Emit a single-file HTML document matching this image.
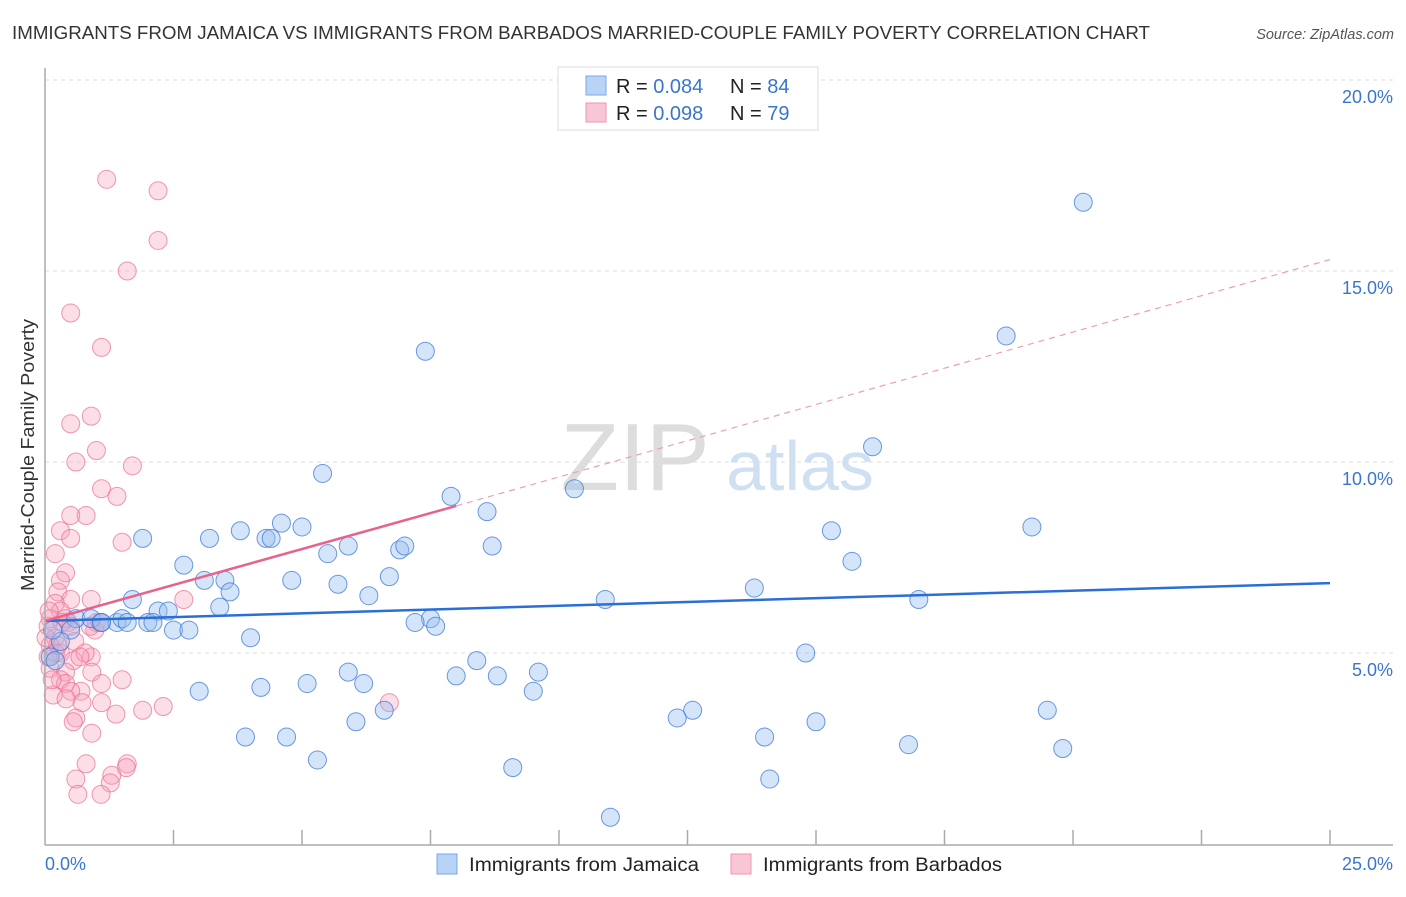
<!DOCTYPE html>
<html><head><meta charset="utf-8"><style>
body{margin:0;background:#fff;font-family:"Liberation Sans",sans-serif;}
svg text{font-family:"Liberation Sans",sans-serif;}
</style></head><body>
<svg id="chart" width="1406" height="892" xmlns="http://www.w3.org/2000/svg">
<text x="12" y="39" font-size="18" fill="#333" textLength="1138" lengthAdjust="spacingAndGlyphs">IMMIGRANTS FROM JAMAICA VS IMMIGRANTS FROM BARBADOS MARRIED-COUPLE FAMILY POVERTY CORRELATION CHART</text>
<text x="1394" y="39" font-size="14.5" fill="#555" font-style="italic" text-anchor="end">Source: ZipAtlas.com</text>
<text x="34" y="455" font-size="18" fill="#333" text-anchor="middle" textLength="272" lengthAdjust="spacingAndGlyphs" transform="rotate(-90 34 455)">Married-Couple Family Poverty</text>
<g id="grid"></g>
<text x="635" y="490" font-size="96" fill="#ddd" font-family="Liberation Serif" text-anchor="middle">ZIP</text>
<text x="800" y="490" font-size="70" fill="#cfe0f3" text-anchor="middle">atlas</text>
<g id="points"></g>
<g id="lines"></g>
<line x1="45" y1="68" x2="45" y2="845" stroke="#aaa" stroke-width="1.5"/>
<line x1="45" y1="845" x2="1393" y2="845" stroke="#aaa" stroke-width="1.5"/>
<g id="ticks"></g>
<text x="45" y="870" font-size="18" fill="#3a75d0">0.0%</text>
<text x="1393" y="870" font-size="18" fill="#3a75d0" text-anchor="end">25.0%</text>
<g>
<rect x="558" y="67" width="260" height="63" fill="#fff" stroke="#ddd"/>
<rect x="586" y="76" width="20" height="19" fill="#b8d3f5" stroke="#7aa7e6"/>
<rect x="586" y="103" width="20" height="19" fill="#f9c6d5" stroke="#ee97b0"/>
<text x="616" y="93" font-size="20" fill="#222">R = <tspan fill="#3a75d0">0.084</tspan></text>
<text x="730" y="93" font-size="20" fill="#222">N = <tspan fill="#3a75d0">84</tspan></text>
<text x="616" y="120" font-size="20" fill="#222">R = <tspan fill="#3a75d0">0.098</tspan></text>
<text x="730" y="120" font-size="20" fill="#222">N = <tspan fill="#3a75d0">79</tspan></text>
</g>
<g>
<rect x="437" y="854" width="20" height="20" fill="#b8d3f5" stroke="#7aa7e6"/>
<text x="469" y="871" font-size="19" fill="#222" textLength="230" lengthAdjust="spacingAndGlyphs">Immigrants from Jamaica</text>
</g>
<g>
<rect x="731" y="854" width="20" height="20" fill="#f9c6d5" stroke="#ee97b0"/>
<text x="763" y="871" font-size="19" fill="#222" textLength="239" lengthAdjust="spacingAndGlyphs">Immigrants from Barbados</text>
</g>
</svg>
<script>
const yTicks=[5,10,15,20];
const yTickLabels=["5.0%","10.0%","15.0%","20.0%"];
const xTicks=[2.5,5,7.5,10,12.5,15,17.5,20,22.5,25];
const jamaicaX=[20.2,18.7,7.4,16.1,5.4,10.3,7.9,8.6,19.2,15.3,1.9,3.2,3.8,4.3,4.4,4.6,5.0,8.7,5.9,5.5,6.9,7.0,15.7,2.7,6.7,3.1,3.5,4.8,5.7,13.8,3.6,6.3,1.7,10.9,17.0,3.4,2.2,2.4,0.6,0.9,1.1,1.4,1.5,1.6,2.0,2.1,7.5,7.2,7.6,2.5,2.8,0.5,0.3,4.0,0.1,0.2,14.8,8.4,5.9,9.6,8.0,8.8,6.2,4.2,5.1,3.0,9.5,19.5,6.6,12.6,12.3,6.05,15.0,3.9,4.7,14.0,16.8,19.8,5.3,9.1,14.1,11.0,0.15,1.1];
const jamaicaY=[16.8,13.3,12.9,10.4,9.7,9.3,9.1,8.7,8.3,8.2,8.0,8.0,8.2,8.0,8.0,8.4,8.3,7.8,7.8,7.6,7.7,7.8,7.4,7.3,7.0,6.9,6.9,6.9,6.8,6.7,6.6,6.5,6.4,6.4,6.4,6.2,6.1,6.1,5.9,5.9,5.8,5.8,5.9,5.8,5.8,5.8,5.9,5.8,5.7,5.6,5.6,5.6,5.3,5.4,4.9,4.8,5.0,4.8,4.5,4.5,4.4,4.4,4.2,4.1,4.2,4.0,4.0,3.5,3.5,3.5,3.3,3.2,3.2,2.8,2.8,2.8,2.6,2.5,2.2,2.0,1.7,0.7,5.6,5.8];
const barbadosX=[1.2,2.2,2.2,1.6,0.5,1.1,0.9,0.5,1.0,0.6,1.7,1.1,1.4,0.8,0.5,0.3,0.5,1.5,0.2,0.4,0.3,0.25,0.9,2.7,0.5,0.2,0.3,0.1,0.4,0.06,0.45,0.5,1.0,0.97,0.2,0.1,0.3,0.55,0.9,0.1,0.4,0.91,0.3,0.4,1.1,1.5,0.7,0.5,0.16,1.1,0.72,2.3,1.9,0.6,1.38,0.55,0.91,0.8,1.6,1.58,0.6,1.3,1.27,0.64,1.09,6.7,0.2,0.06,0.25,0.02,0.33,0.88,1.07,0.14,0.58,0.78,0.41,0.68,0.08];
const barbadosY=[17.4,17.1,15.8,15.0,13.9,13.0,11.2,11.0,10.3,10.0,9.9,9.3,9.1,8.6,8.6,8.2,8.0,7.9,7.6,7.1,6.9,6.6,6.4,6.4,6.4,6.3,6.1,5.9,5.9,5.7,5.8,5.7,5.8,5.6,5.4,5.2,5.0,4.8,4.9,4.6,4.5,4.5,4.3,4.2,4.2,4.3,4.0,4.0,3.9,3.7,3.7,3.6,3.5,3.3,3.4,3.2,2.9,2.1,2.1,2.0,1.7,1.8,1.6,1.3,1.3,3.7,5.0,4.9,5.2,5.4,5.8,5.7,5.8,4.3,5.3,5.0,3.8,4.9,6.1];
const jamaicaTrend=[5.84,6.83];
const barbadosTrend=[5.84,8.85,15.3];
const barbadosTrendX=[0,8,25];
const NS="http://www.w3.org/2000/svg";
const xs=v=>45+v*51.4;
const ys=v=>844-v*38.2;
function mk(tag,attrs,parent){const e=document.createElementNS(NS,tag);for(const k in attrs)e.setAttribute(k,attrs[k]);parent.appendChild(e);return e;}
const grid=document.getElementById('grid');
yTicks.forEach((t,i)=>{
 const l=mk('line',{x1:45,x2:1393,y1:ys(t),y2:ys(t),stroke:'#ddd','stroke-dasharray':'4,4'},grid);
 
 
 const tx=mk('text',{x:1393,y:ys(t)+23,'font-size':18,fill:'#3a75d0','text-anchor':'end'},grid);
 tx.textContent=yTickLabels[i];
 
 
});
const ticks=document.getElementById('ticks');
xTicks.forEach(t=>{
 const l=mk('line',{x1:xs(t),x2:xs(t),y1:830,y2:845,stroke:'#aaa','stroke-width':1.5},ticks);
 
 
});
const pts=document.getElementById('points');
barbadosX.forEach((x,i)=>{
 const c=mk('circle',{cx:xs(x),cy:ys(barbadosY[i]),r:9,fill:'rgba(246,160,185,0.35)',stroke:'rgba(232,110,145,0.7)','stroke-width':1},pts);
 
 
});
jamaicaX.forEach((x,i)=>{
 const c=mk('circle',{cx:xs(x),cy:ys(jamaicaY[i]),r:9,fill:'rgba(150,190,240,0.4)',stroke:'rgba(60,120,215,0.75)','stroke-width':1},pts);
 
 
});
const lines=document.getElementById('lines');
const jl=mk('line',{x1:xs(0),y1:ys(jamaicaTrend[0]),x2:xs(25),y2:ys(jamaicaTrend[1]),stroke:'#2a6fd6','stroke-width':2.5},lines);


const bl=mk('line',{x1:xs(barbadosTrendX[0]),y1:ys(barbadosTrend[0]),x2:xs(barbadosTrendX[1]),y2:ys(barbadosTrend[1]),stroke:'#e8628e','stroke-width':2.5},lines);


const bd=mk('line',{x1:xs(barbadosTrendX[1]),y1:ys(barbadosTrend[1]),x2:xs(barbadosTrendX[2]),y2:ys(barbadosTrend[2]),stroke:'#e8a0b8','stroke-width':1.2,'stroke-dasharray':'6,5'},lines);


</script>
</body></html>
